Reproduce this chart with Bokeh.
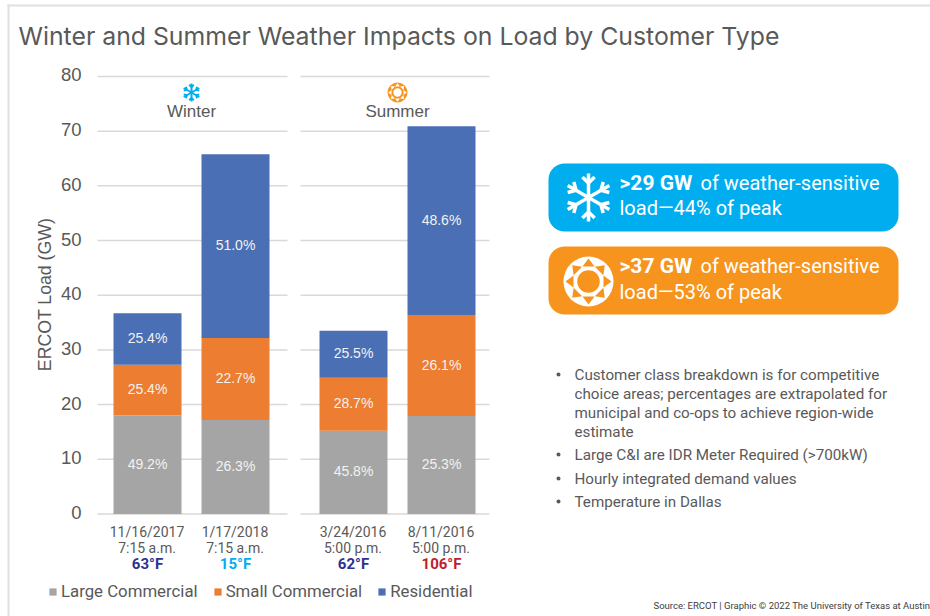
import math
from bokeh.embed import file_html
from bokeh.resources import INLINE
from bokeh.plotting import figure
from bokeh.models import (Range1d, LinearAxis, Label, Legend, LegendItem, ColumnDataSource,
                          FixedTicker, BoxAnnotation)
from bokeh.core.properties import value

# ---- data
dates = ["11/16/2017", "1/17/2018", "3/24/2016", "8/11/2016"]
times = ["7:15 a.m.", "7:15 a.m.", "5:00 p.m.", "5:00 p.m."]
temps = ["63°F", "15°F", "62°F", "106°F"]
large_commercial = [18.0, 17.2, 15.2, 17.9]
small_commercial = [9.3, 15.0, 9.7, 18.5]
residential = [9.4, 33.6, 8.6, 34.5]
large_pct = ["49.2%", "26.3%", "45.8%", "25.3%"]
small_pct = ["25.4%", "22.7%", "28.7%", "26.1%"]
resid_pct = ["25.4%", "51.0%", "25.5%", "48.6%"]
y_ticks = [0, 10, 20, 30, 40, 50, 60, 70, 80]
title_text = "Winter and Summer Weather Impacts on Load by Customer Type"
bullets = [
    ["Customer class breakdown is for competitive", "choice areas; percentages are extrapolated for",
     "municipal and co-ops to achieve region-wide", "estimate"],
    ["Large C&I are IDR Meter Required (>700kW)"],
    ["Hourly integrated demand values"],
    ["Temperature in Dallas"],
]
source_text = "Source: ERCOT | Graphic © 2022 The University of Texas at Austin"

# ---- layout (page pixels)
W, H = 930, 616
FONT = "Roboto"
NUM_FONT = "Liberation Sans"
TITLE_FONT = "Inter"
GREY = "#595959"
TEMP_COL = ["#2e3192", "#00aeef", "#2e3192", "#be1e2d"]
BAR_X = [147, 235, 353, 441]
BAR_W = 68
Y0, PX_PER = 513.5, 5.469
SKY, AMBER = "#00aeef", "#f7941d"
TICK_SHIFT = 1.5

p = figure(width=W, height=H, output_backend="svg", toolbar_location=None,
           x_range=Range1d(0, W),
           y_range=Range1d((Y0 - H) / PX_PER, Y0 / PX_PER),
           min_border_left=0, min_border_right=0, min_border_top=0, min_border_bottom=0,
           x_axis_location=None, y_axis_location=None, outline_line_color=None)
p.extra_y_ranges = {"px": Range1d(H, 0),
                    "ticks": Range1d((Y0 - TICK_SHIFT - H) / PX_PER, (Y0 - TICK_SHIFT) / PX_PER)}
p.xgrid.visible = False
p.ygrid.visible = False

ax = LinearAxis(ticker=FixedTicker(ticks=y_ticks), bounds=(0, 80), y_range_name="ticks")
ax.axis_line_color = None
ax.major_tick_line_color = None
ax.minor_tick_line_color = None
ax.major_tick_in = 0
ax.major_tick_out = 0
ax.major_label_standoff = -81
ax.major_label_text_font = NUM_FONT
ax.major_label_text_font_size = "18.5px"
ax.major_label_text_color = GREY
p.add_layout(ax, "left")


def label(x, y, text, size, color=GREY, align="left", style="normal", font=FONT, angle=0):
    p.add_layout(Label(x=x, y=y, y_range_name="px", text=text, text_font=font, level="overlay",
                       text_font_size=f"{size}px", text_color=color, text_align=align, angle=angle,
                       text_baseline="middle", text_font_style=style))


# frame of the slide
p.add_layout(BoxAnnotation(left=7, right=9, top=4, bottom=H, y_range_name="px", level="underlay",
                           fill_color="#e0e0e0", fill_alpha=1, line_color=None))
p.add_layout(BoxAnnotation(left=7, right=W, top=4, bottom=6, y_range_name="px", level="underlay",
                           fill_color="#e0e0e0", fill_alpha=1, line_color=None))

# grid lines, split in two panels
for x0, x1 in [(97, 287), (300, 489)]:
    p.segment(x0=[x0] * len(y_ticks), x1=[x1] * len(y_ticks), y0=y_ticks, y1=y_ticks,
              line_color="#d9d9d9", line_width=1.5)

src = ColumnDataSource(dict(x=BAR_X, large=large_commercial, small=small_commercial, res=residential))
stack = p.vbar_stack(["large", "small", "res"], x="x", width=BAR_W, source=src,
                     color=["#a5a5a5", "#ed7d31", "#4a6fb5"], line_color=None)

bottom = [0.0] * 4
for vals, pct in [(large_commercial, large_pct), (small_commercial, small_pct), (residential, resid_pct)]:
    mids = [b + v / 2 for b, v in zip(bottom, vals)]
    bottom = [b + v for b, v in zip(bottom, vals)]
    p.text(x=BAR_X, y=mids, text=pct, text_color="#f2f2f2", text_font=value(NUM_FONT),
           text_font_size="14px", text_align="center", text_baseline="middle", y_offset=-1)

for i, x in enumerate(BAR_X):
    label(x - 0.5, 531, dates[i], 14, align="center")
    label(x - 0.5, 547, times[i], 14, align="center")
    label(x, 563, temps[i], 15, TEMP_COL[i], "center", "bold")

legend = Legend(items=[LegendItem(label="Large Commercial", renderers=[stack[0]]),
                       LegendItem(label="Small Commercial", renderers=[stack[1]]),
                       LegendItem(label="Residential", renderers=[stack[2]])],
                orientation="horizontal", location=(48, 15), padding=0, margin=0, spacing=15,
                glyph_width=9, glyph_height=9, label_standoff=4, level="overlay",
                label_text_font=FONT, label_text_font_size="16.8px", label_text_color=GREY,
                background_fill_alpha=0, border_line_color=None, label_height=14)
p.add_layout(legend, "center")

label(18, 35, title_text, 24.8, font=TITLE_FONT)
label(44, 294, "ERCOT Load (GW)", 17.7, align="center", font=NUM_FONT, angle=math.pi / 2)
label(191, 111, "Winter", 17, align="center", font=NUM_FONT)
label(397, 111, "Summer", 17, align="center", font=NUM_FONT)
label(653, 605, source_text, 9.5, "#404040")


def snowflake(cx, cy, r, color, width):
    xs, ys = [], []
    for k in range(6):
        a = math.pi / 2 + k * math.pi / 3
        xs.append([cx, cx + r * math.cos(a)])
        ys.append([cy, cy - r * math.sin(a)])
        bx, by = cx + r * 0.6 * math.cos(a), cy - r * 0.6 * math.sin(a)
        for s in (-1, 1):
            l = r * 0.36
            xs.append([bx, bx + l * math.cos(a + s * math.pi / 4)])
            ys.append([by, by - l * math.sin(a + s * math.pi / 4)])
    p.multi_line(xs, ys, y_range_name="px", line_color=color, line_width=width)


def sun(cx, cy, r, disc, mark, core):
    p.scatter([cx], [cy], size=2 * r, y_range_name="px", fill_color=disc, line_color=None)
    xs, ys = [], []
    for k in range(8):
        a = k * math.pi / 4
        base = 0.6 * r
        tip = 0.92 * r
        half = 0.24 * r
        bx, by = cx + base * math.cos(a), cy - base * math.sin(a)
        nx, ny = -math.sin(a), -math.cos(a)
        xs.append([bx + half * nx, bx - half * nx, cx + tip * math.cos(a)])
        ys.append([by + half * ny, by - half * ny, cy - tip * math.sin(a)])
    p.patches(xs, ys, y_range_name="px", fill_color=mark, line_color=None)
    p.scatter([cx], [cy], size=2 * core * r, y_range_name="px", fill_color=mark, line_color=None)


def rounded(x0, y0, x1, y1, r, color):
    xs, ys = [], []
    for cx, cy, a0 in [(x1 - r, y0 + r, 0), (x0 + r, y0 + r, 90), (x0 + r, y1 - r, 180), (x1 - r, y1 - r, 270)]:
        for d in range(0, 91, 10):
            a = math.radians(a0 + d)
            xs.append(cx + r * math.cos(a))
            ys.append(cy - r * math.sin(a))
    p.patch(xs, ys, y_range_name="px", fill_color=color, line_color=None)


snowflake(191, 92, 9, SKY, 2)
sun(397, 92, 10, AMBER, "white", 0.42)

rounded(548, 163, 898, 231, 16, SKY)
rounded(548, 246, 898, 314, 16, AMBER)
snowflake(588, 197, 24, "white", 3.5)
sun(588, 281, 25, "white", AMBER, 0.45)

label(619, 182.5, ">29 GW", 21, "white", style="bold")
label(700, 182.5, "of weather-sensitive", 20, "white")
label(619, 207.5, "load—44% of peak", 20, "white")
label(619, 265.5, ">37 GW", 21, "white", style="bold")
label(700, 265.5, "of weather-sensitive", 20, "white")
label(619, 291.5, "load—53% of peak", 20, "white")

line_y = [374, 393, 412, 431, 454, 478, 501]
idx = 0
for group in bullets:
    p.scatter([558], [line_y[idx]], size=4, y_range_name="px", fill_color=GREY, line_color=None)
    for line in group:
        label(574, line_y[idx], line, 15.2)
        idx += 1

open("out.html", "w").write(file_html(p, INLINE))
